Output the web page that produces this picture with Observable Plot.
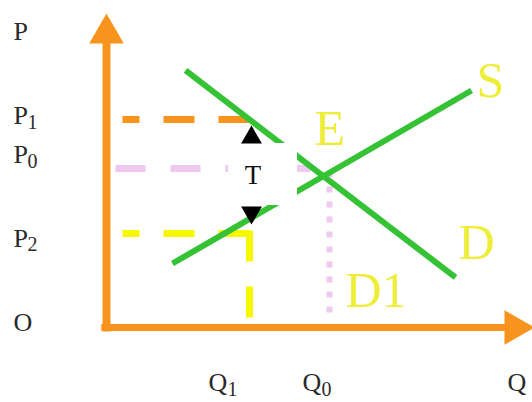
<!DOCTYPE html>
<html>
<head>
<meta charset="utf-8">
<script src="https://cdn.jsdelivr.net/npm/d3@7"></script>
<script src="https://cdn.jsdelivr.net/npm/@observablehq/plot@0.6"></script>
<style>
  html, body { margin: 0; padding: 0; background: #ffffff; }
  #chart svg { display: block; }
</style>
</head>
<body>
<div id="chart"></div>
<script>
// ---- data (chart units: Q along x, P along y) ----
const P1 = 6.93, P0 = 5.3, P2 = 3.13;
const Q1 = 3.575, Q0 = 5.575;
const demandQ = [1.975, 8.725];
const demandP = [8.567, 1.667];
const supplyQ = [1.65, 9.125];
const supplyP = [2.133, 7.9];
const axisBaseP = 9.5, axisTipP = 10.47;
const axisBaseQ = 10.0, axisTipQ = 10.7;
const guideStartQ = [0.4, 0.225, 0.4];     // orange, pink, yellow horizontal guides start
const guideBottomP = 0.3;                   // vertical guides end
const priceTickLabels = ["P", "P", "P", "P", "O"];
const priceTickSubs = ["", "1", "0", "2", ""];
const priceTickAt = [9.6, 6.77, 5.47, 2.7, -0.1];
const qtyTickLabels = ["Q", "Q", "Q"];
const qtyTickSubs = ["1", "0", ""];
const qtyTickAt = [2.55, 4.9, 10.025];
const curveLabels = ["E", "S", "D", "D1"];
const curveLabelQ = [5.2, 9.25, 8.8, 5.975];
const curveLabelP = [6.067, 7.667, 2.3, 0.7];
const taxLabel = "T";
const taxLabelQ = 3.66, taxLabelP = 4.767;
const taxBoxQ = [3.05, 4.775];
const taxBoxP = [4.067, 6.133];

// ---- styles ----
const ORANGE = "#f7941d", GREEN = "#35c335", PINK = "#efc8ef", YELLOW = "#f7f700";
const LABEL_YELLOW = "#eded3a", INK = "#2a2a2a";
const SERIF = "'Liberation Serif', 'Times New Roman', serif";
const BUTT = {strokeLinecap: "butt", strokeLinejoin: "miter"};

const pts = (qs, ps) => qs.map((q, i) => ({q, p: ps[i]}));

const priceTicks = priceTickLabels.map((t, i) => ({t, s: priceTickSubs[i], p: priceTickAt[i]}));
const qtyTicks = qtyTickLabels.map((t, i) => ({t, s: qtyTickSubs[i], q: qtyTickAt[i]}));
const curveText = curveLabels.map((t, i) => ({t, q: curveLabelQ[i], p: curveLabelP[i]}));

const chart = Plot.plot({
  width: 532,
  height: 402,
  margin: 0,
  style: {background: "#ffffff", overflow: "visible"},
  x: {domain: [0, 10], range: [106, 506], axis: null},
  y: {domain: [0, 10], range: [327, 27], axis: null},
  marks: [
    // guides
    Plot.line(pts([Q1, guideStartQ[0]], [P1, P1]), {x: "q", y: "p", stroke: ORANGE, strokeWidth: 7, strokeDasharray: "31,24", ...BUTT}),
    Plot.line(pts([guideStartQ[1], Q0], [P0, P0]), {x: "q", y: "p", stroke: PINK, strokeWidth: 7, strokeDasharray: "30,25", ...BUTT}),
    Plot.line(pts([Q1, guideStartQ[2]], [P2, P2]), {x: "q", y: "p", stroke: YELLOW, strokeWidth: 7, strokeDasharray: "31,24", ...BUTT}),
    Plot.line(pts([Q1, Q1], [P2 + 0.1, guideBottomP]), {x: "q", y: "p", stroke: YELLOW, strokeWidth: 7, strokeDasharray: "31,25", ...BUTT}),
    Plot.line(pts([Q0, Q0], [P0 - 0.1, guideBottomP]), {x: "q", y: "p", stroke: PINK, strokeWidth: 6, strokeDasharray: "6,9", ...BUTT}),
    // supply & demand
    Plot.line(pts(demandQ, demandP), {x: "q", y: "p", stroke: GREEN, strokeWidth: 6, ...BUTT}),
    Plot.line(pts(supplyQ, supplyP), {x: "q", y: "p", stroke: GREEN, strokeWidth: 6, ...BUTT}),
    // axes
    Plot.line(pts([0, 0], [-0.13, axisBaseP]), {x: "q", y: "p", stroke: ORANGE, strokeWidth: 8, ...BUTT}),
    Plot.line(pts([-0.13, axisBaseQ], [0, 0]), {x: "q", y: "p", stroke: ORANGE, strokeWidth: 7, ...BUTT}),
    Plot.dot([{q: 0, p: axisTipP}], {x: "q", y: "p", symbol: "triangle", r: 12.86, fill: ORANGE, stroke: "none", dy: 20}),
    Plot.dot([{q: axisTipQ, p: 0}], {x: "q", y: "p", symbol: "triangle", r: 12.86, rotate: 90, fill: ORANGE, stroke: "none", dx: -20}),
    // tax box
    Plot.rect([{}], {x1: taxBoxQ[0], x2: taxBoxQ[1], y1: taxBoxP[0], y2: taxBoxP[1], fill: "#ffffff"}),
    Plot.text([{q: taxLabelQ, p: taxLabelP}], {x: "q", y: "p", text: () => taxLabel, fill: "#111", fontSize: 27, fontFamily: SERIF, textAnchor: "middle", lineAnchor: "bottom"}),
    Plot.dot([{q: Q1, p: P1}], {x: "q", y: "p", symbol: "triangle", r: 7.72, fill: "#000", stroke: "none", dx: 2, dy: 18}),
    Plot.dot([{q: Q1, p: P2}], {x: "q", y: "p", symbol: "triangle", r: 7.72, rotate: 180, fill: "#000", stroke: "none", dx: 2, dy: -21}),
    // curve labels
    Plot.text(curveText, {x: "q", y: "p", text: "t", fill: LABEL_YELLOW, fontSize: 50, fontFamily: SERIF, textAnchor: "start", lineAnchor: "bottom"}),
    // price labels
    Plot.text(priceTicks, {x: () => 0, y: "p", text: "t", dx: -93, fill: INK, fontSize: 26, fontFamily: SERIF, textAnchor: "start", lineAnchor: "bottom"}),
    Plot.text(priceTicks.filter(d => d.s), {x: () => 0, y: "p", text: "s", dx: -79, dy: 4.5, fill: INK, fontSize: 20, fontFamily: SERIF, textAnchor: "start", lineAnchor: "bottom"}),
    // quantity labels
    Plot.text(qtyTicks, {x: "q", y: () => 0, text: "t", dy: 63, fill: INK, fontSize: 26, fontFamily: SERIF, textAnchor: "start", lineAnchor: "bottom"}),
    Plot.text(qtyTicks.filter(d => d.s), {x: "q", y: () => 0, text: "s", dx: 19, dy: 68, fill: INK, fontSize: 20, fontFamily: SERIF, textAnchor: "start", lineAnchor: "bottom"})
  ]
});
document.getElementById("chart").appendChild(chart);
</script>
</body>
</html>
